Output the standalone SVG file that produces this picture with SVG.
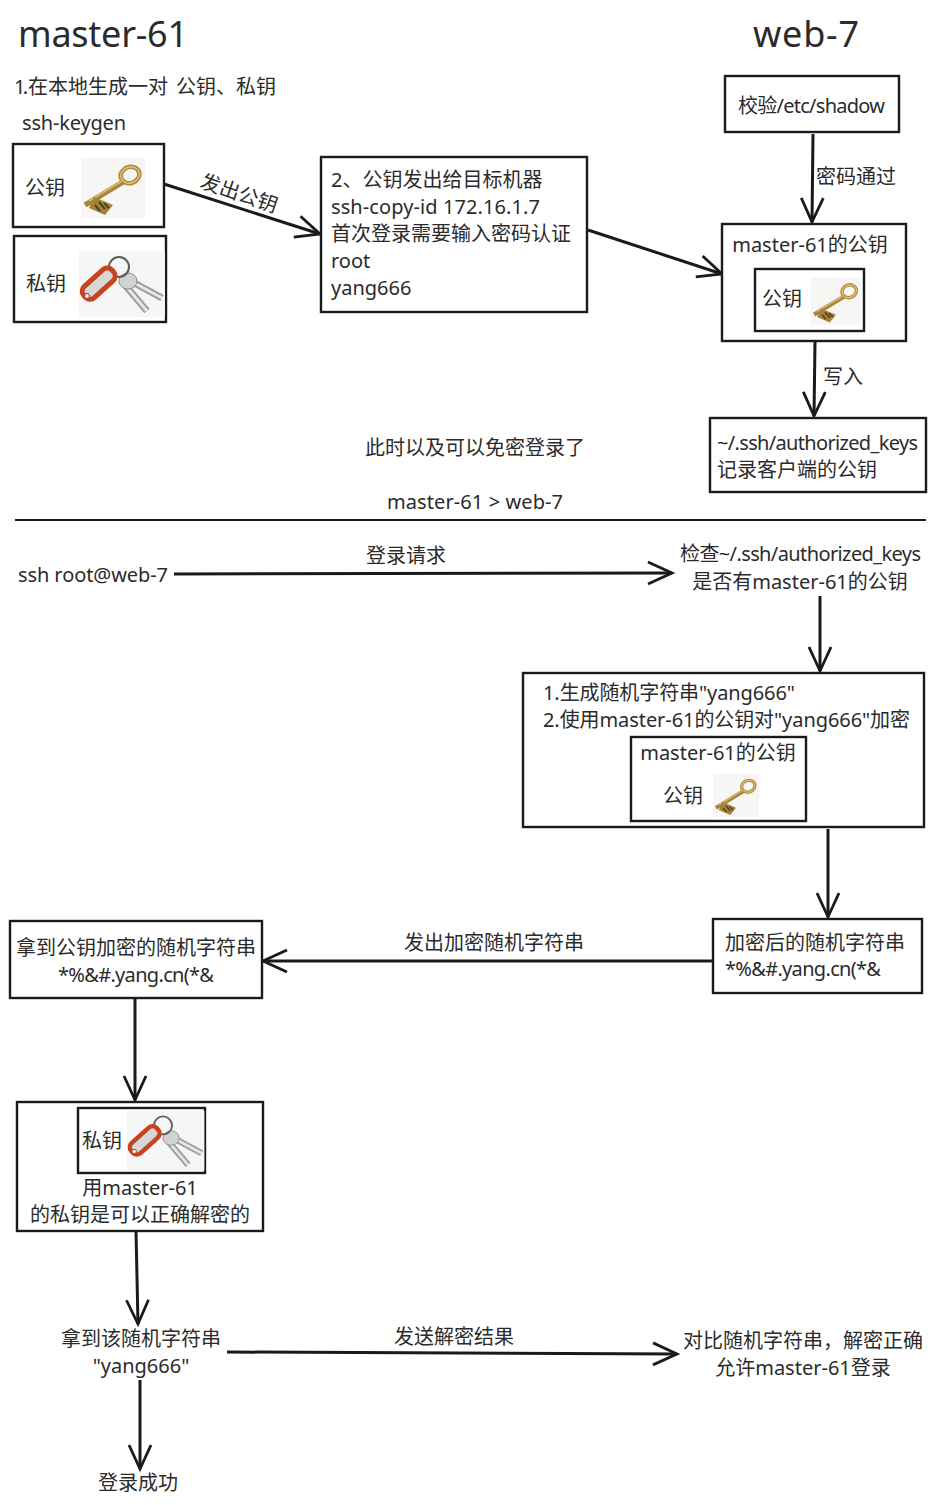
<svg xmlns="http://www.w3.org/2000/svg" width="936" height="1505" viewBox="0 0 936 1505">
<style>
text{font-family:"Noto Sans","Noto Sans CJK SC",sans-serif;font-size:20px;fill:#2b2b2b}
.m{text-anchor:middle}
.h{font-size:36px}
.b{fill:#fff;stroke:#1a1a1a;stroke-width:2.4}
.c{fill:none;stroke:#1a1a1a;stroke-width:3;marker-end:url(#a)}
.d{fill:none;stroke:#1a1a1a;stroke-width:2}
</style>
<defs>
<marker id="a" markerUnits="userSpaceOnUse" markerWidth="30" markerHeight="30" refX="26" refY="15" orient="auto" viewBox="0 0 30 30"><path d="M2 4L26 15L2 26" fill="none" stroke="#1a1a1a" stroke-width="2.800"/></marker>
<g id="key">
<rect width="64" height="60" fill="#f7f6f4"/>
<g fill="none">
<ellipse cx="49" cy="17" rx="9.500" ry="8" stroke="#b08a3c" stroke-width="4.500" transform="rotate(-20 49 17)"/>
<ellipse cx="49" cy="17" rx="9.500" ry="8" stroke="#e3c67c" stroke-width="1.400" transform="rotate(-20 49 17)"/>
<path d="M42 24L4 47" stroke="#a9843a" stroke-width="5.500"/>
<path d="M41 23L8 43" stroke="#dcbd70" stroke-width="1.500"/>
</g>
<path d="M13 39L32 47L24 57L8 50Z" fill="#a5823a"/>
<path d="M14 47L19 53M18 44L24 51M23 45L28 50" stroke="#54401c" stroke-width="2"/>
</g>
<g id="keys">
<rect width="86" height="66" fill="#f6f6f6"/>
<path d="M48 28L83 47M46 34L68 60" stroke="#9d9d9d" stroke-width="7" fill="none"/>
<path d="M48 28L83 47M46 34L68 60" stroke="#e6e6e6" stroke-width="3" fill="none"/>
<ellipse cx="49" cy="30" rx="9" ry="8" fill="#d2d2d2" stroke="#8f8f8f"/>
<circle cx="40" cy="16" r="10" fill="none" stroke="#5c5c5c" stroke-width="2"/>
<rect x="1" y="25" width="38" height="15" rx="6.500" transform="rotate(-42 20 33)" fill="#d6d8d8" stroke="#c8421f" stroke-width="5"/>
<circle cx="8" cy="45" r="2.500" fill="#f5f5f5" stroke="#a83217"/>
</g>
</defs>
<rect width="936" height="1505" fill="#fff"/>
<g id="connectors">
<path class="c" d="M164 184L320 234"/>
<path class="c" d="M588 230L722 274"/>
<path class="c" d="M813 134L812 222"/>
<path class="c" d="M815 342L814 416"/>
<path class="c" d="M174 574L672 573"/>
<path class="c" d="M820 596L820 671"/>
<path class="c" d="M828 829L828 917"/>
<path class="c" d="M713 961L263 961"/>
<path class="c" d="M135 999L135 1100"/>
<path class="c" d="M136 1231L138 1324"/>
<path class="c" d="M227 1352L677 1354"/>
<path class="c" d="M140 1380L140 1469"/>
<path class="d" d="M15 520L926 520"/>
</g>
<g id="titles">
<text class="h" x="18" y="47" textLength="170">master-61</text>
<text class="h" x="753" y="47" textLength="106">web-7</text>
<text x="14" y="94" textLength="14">1.</text>
<text x="28" y="94">在本地生成一对</text>
<text x="176" y="94">公钥、私钥</text>
<text x="22" y="130" textLength="104">ssh-keygen</text>
</g>
<g id="pub"><rect class="b" x="13" y="144" width="151" height="83"/><text x="25" y="195">公钥</text><use href="#key" x="81" y="158"/></g>
<g id="priv"><rect class="b" x="14" y="236" width="152" height="86"/><text x="26" y="291">私钥</text><use href="#keys" x="79" y="251"/></g>
<g id="copy"><rect class="b" x="321" y="157" width="266" height="155"/>
<text x="331" y="187">2、公钥发出给目标机器</text><text x="331" y="214" textLength="209">ssh-copy-id 172.16.1.7</text><text x="331" y="241">首次登录需要输入密码认证</text><text x="331" y="268">root</text><text x="331" y="295">yang666</text></g>
<g id="shadow"><rect class="b" x="725" y="76" width="174" height="56"/><text x="738" y="113" textLength="147">校验/etc/shadow</text></g>
<g id="webkey"><rect class="b" x="722" y="224" width="184" height="117"/><text class="m" x="810" y="252">master-61的公钥</text><rect class="b" x="755" y="269" width="109" height="62"/><text x="762" y="306">公钥</text><use href="#key" transform="translate(811 278) scale(.78)"/></g>
<g id="auth"><rect class="b" x="710" y="418" width="216" height="74"/><text x="717" y="450" textLength="201">~/.ssh/authorized_keys</text><text x="717" y="477">记录客户端的公钥</text></g>
<g id="labels">
<text transform="translate(199 187) rotate(19)">发出公钥</text>
<text x="816" y="184">密码通过</text>
<text x="823" y="384">写入</text>
<text class="m" x="475" y="455">此时以及可以免密登录了</text>
<text x="387" y="509" textLength="176">master-61 &gt; web-7</text>
<text class="m" x="406" y="563">登录请求</text>
<text x="18" y="582" textLength="150">ssh root@web-7</text>
<text x="680" y="561" textLength="241">检查~/.ssh/authorized_keys</text>
<text class="m" x="800" y="589">是否有master-61的公钥</text>
<text class="m" x="494" y="950">发出加密随机字符串</text>
<text class="m" x="454" y="1344">发送解密结果</text>
<text class="m" x="141" y="1346">拿到该随机字符串</text>
<text class="m" x="141" y="1373">"yang666"</text>
<text class="m" x="803" y="1348">对比随机字符串，解密正确</text>
<text class="m" x="803" y="1375">允许master-61登录</text>
<text class="m" x="138" y="1490">登录成功</text>
</g>
<g id="gen"><rect class="b" x="523" y="673" width="401" height="154"/><text x="543" y="700" textLength="252">1.生成随机字符串"yang666"</text><text x="543" y="727" textLength="367">2.使用master-61的公钥对"yang666"加密</text><rect class="b" x="631" y="737" width="175" height="84"/><text class="m" x="718" y="760">master-61的公钥</text><text x="663" y="803">公钥</text><use href="#key" transform="translate(713 774) scale(.72)"/></g>
<g id="enc"><rect class="b" x="713" y="919" width="209" height="74"/><text x="725" y="950">加密后的随机字符串</text><text x="725" y="976" textLength="156">*%&amp;#.yang.cn(*&amp;</text></g>
<g id="recv"><rect class="b" x="10" y="921" width="252" height="77"/><text class="m" x="136" y="955">拿到公钥加密的随机字符串</text><text x="58" y="982" textLength="156">*%&amp;#.yang.cn(*&amp;</text></g>
<g id="dec"><rect class="b" x="17" y="1102" width="246" height="129"/><rect class="b" x="78" y="1108" width="127" height="65"/><text x="82" y="1148">私钥</text><use href="#keys" transform="translate(127 1111) scale(.9)"/><text class="m" x="140" y="1195">用master-61</text><text class="m" x="140" y="1222">的私钥是可以正确解密的</text></g>
</svg>
